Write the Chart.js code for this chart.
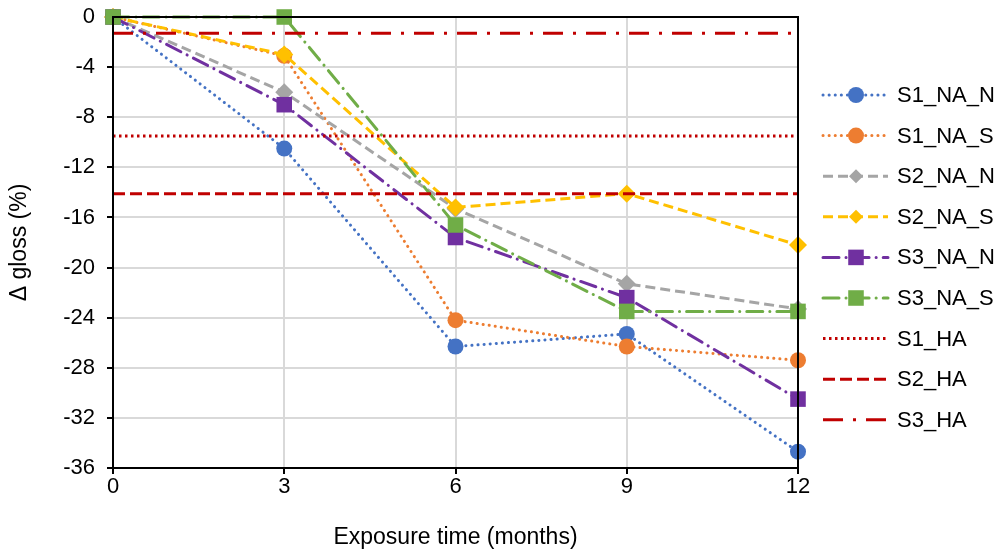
<!DOCTYPE html>
<html>
<head>
<meta charset="utf-8">
<script src="https://cdn.jsdelivr.net/npm/chart.js@4/dist/chart.umd.min.js"></script>
<style>
  html, body { margin: 0; padding: 0; background: #fff; }
  #wrap { width: 1000px; height: 554px; }
</style>
</head>
<body>
<div id="wrap"><canvas id="chart" width="1000" height="554"></canvas></div>
<script>
// data
const months = [0, 3, 6, 9, 12];
const s1NaN = [0, -10.5, -26.3, -25.3, -34.7];
const s1NaS = [0, -3.1, -24.2, -26.3, -27.4];
const s2NaN = [0, -6.0, -15.3, -21.3, -23.3];
const s2NaS = [0, -3.0, -15.2, -14.1, -18.2];
const s3NaN = [0, -7.0, -17.6, -22.4, -30.5];
const s3NaS = [0, 0, -16.6, -23.5, -23.5];
const haNames = ['S1_HA', 'S2_HA', 'S3_HA'];
const haLevels = [-9.5, -14.1, -1.3];
const yTicks = [0, -4, -8, -12, -16, -20, -24, -28, -32, -36];

const FONT = 'Liberation Sans, Arial, sans-serif';
const RED = '#C00000';
const dotted = [0.1, 6];
const dashed = [10, 5];
const longDashDot = [16, 7, 0.1, 7];

function pts(vals) {
  return months.map((m, i) => ({ x: m, y: vals[i] }));
}
function flat(level) {
  return [{ x: 0, y: level }, { x: 12, y: level }];
}

const datasets = [
  { label: 'S1_NA_N', data: pts(s1NaN), borderColor: '#4472C4', backgroundColor: '#4472C4',
    borderDash: dotted, borderCapStyle: 'round', pointStyle: 'circle', pointRadius: 8 },
  { label: 'S1_NA_S', data: pts(s1NaS), borderColor: '#ED7D31', backgroundColor: '#ED7D31',
    borderDash: dotted, borderCapStyle: 'round', pointStyle: 'circle', pointRadius: 8 },
  { label: 'S2_NA_N', data: pts(s2NaN), borderColor: '#A5A5A5', backgroundColor: '#A5A5A5',
    borderDash: dashed, pointStyle: 'rectRot', pointRadius: 9 },
  { label: 'S2_NA_S', data: pts(s2NaS), borderColor: '#FFC000', backgroundColor: '#FFC000',
    borderDash: dashed, pointStyle: 'rectRot', pointRadius: 9 },
  { label: 'S3_NA_N', data: pts(s3NaN), borderColor: '#7030A0', backgroundColor: '#7030A0',
    borderDash: longDashDot, borderCapStyle: 'round', pointStyle: 'rect', pointRadius: 11 },
  { label: 'S3_NA_S', data: pts(s3NaS), borderColor: '#70AD47', backgroundColor: '#70AD47',
    borderDash: longDashDot, borderCapStyle: 'round', pointStyle: 'rect', pointRadius: 11 },
  { label: haNames[0], data: flat(haLevels[0]), borderColor: RED, backgroundColor: RED,
    borderDash: [2.5, 3.5], pointRadius: 0 },
  { label: haNames[1], data: flat(haLevels[1]), borderColor: RED, backgroundColor: RED,
    borderDash: [12, 5], pointRadius: 0 },
  { label: haNames[2], data: flat(haLevels[2]), borderColor: RED, backgroundColor: RED,
    borderDash: [20, 10, 3, 10], pointRadius: 0 }
];
datasets.forEach((d, i) => {
  d.borderWidth = 3;
  d.pointBorderWidth = 0;
  d.pointHoverRadius = d.pointRadius;
  d.tension = 0;
  d.fill = false;
  d.clip = false;
  d.order = -i; // later series drawn on top, like Excel
});

// frame around plot area + legend on the right
const framePlugin = {
  id: 'frame',
  afterDraw(chart) {
    const ctx = chart.ctx;
    const a = chart.chartArea;
    ctx.save();
    ctx.strokeStyle = '#000';
    ctx.lineWidth = 2;
    ctx.strokeRect(a.left, a.top, a.right - a.left, a.bottom - a.top);

    // legend
    const x0 = 823, x1 = 888, xm = 856, xt = 897;
    let y = 95;
    datasets.forEach(d => {
      ctx.save();
      ctx.strokeStyle = d.borderColor;
      ctx.lineWidth = d.borderWidth;
      ctx.lineCap = d.borderCapStyle || 'butt';
      ctx.setLineDash(d.borderDash);
      ctx.beginPath();
      ctx.moveTo(x0, y);
      ctx.lineTo(x1, y);
      ctx.stroke();
      ctx.restore();
      if (d.pointRadius > 0) {
        ctx.fillStyle = d.backgroundColor;
        const r = d.pointRadius;
        ctx.beginPath();
        if (d.pointStyle === 'circle') {
          ctx.arc(xm, y, r, 0, Math.PI * 2);
        } else if (d.pointStyle === 'rectRot') {
          const h = 7;
          ctx.moveTo(xm - h, y); ctx.lineTo(xm, y - h);
          ctx.lineTo(xm + h, y); ctx.lineTo(xm, y + h);
          ctx.closePath();
        } else {
          const s = r * Math.SQRT1_2;
          ctx.rect(xm - s, y - s, 2 * s, 2 * s);
        }
        ctx.fill();
      }
      ctx.fillStyle = '#000';
      ctx.font = '22px ' + FONT;
      ctx.textBaseline = 'middle';
      ctx.textAlign = 'left';
      ctx.fillText(d.label, xt, y + 1);
      y += 40.6;
    });
    ctx.restore();
  }
};

new Chart(document.getElementById('chart'), {
  type: 'line',
  data: { datasets },
  options: {
    responsive: false,
    animation: false,
    layout: { padding: { left: 0, right: 202, top: 17, bottom: 0 } },
    plugins: { legend: { display: false }, tooltip: { enabled: false } },
    scales: {
      x: {
        type: 'linear', min: 0, max: 12,
        afterFit(scale) {
          scale.height = 86;
          scale.paddingLeft = 0; scale.paddingRight = 0;
        },
        ticks: { stepSize: 3, color: '#000', font: { family: FONT, size: 22 }, padding: 0 },
        grid: { color: '#D9D9D9', lineWidth: 2, tickLength: 6, tickColor: '#000' },
        border: { color: '#000', width: 2 },
        title: { display: true, text: 'Exposure time (months)', color: '#000',
                 font: { family: FONT, size: 23 }, padding: { top: 0, bottom: 3 }, align: 'center' }
      },
      y: {
        type: 'linear', min: -36, max: 0,
        afterFit(scale) {
          scale.width = 113;
          scale.paddingTop = 0; scale.paddingBottom = 0;
        },
        afterBuildTicks(scale) { scale.ticks = yTicks.map(v => ({ value: v })); },
        ticks: { color: '#000', font: { family: FONT, size: 22 }, padding: 12 },
        grid: { color: '#D9D9D9', lineWidth: 2, tickLength: 6, tickColor: '#000' },
        border: { color: '#000', width: 2 },
        title: { display: true, text: 'Δ gloss (%)', color: '#000',
                 font: { family: FONT, size: 23 }, padding: { top: 6, bottom: 0 } }
      }
    }
  },
  plugins: [framePlugin]
});
</script>
</body>
</html>
